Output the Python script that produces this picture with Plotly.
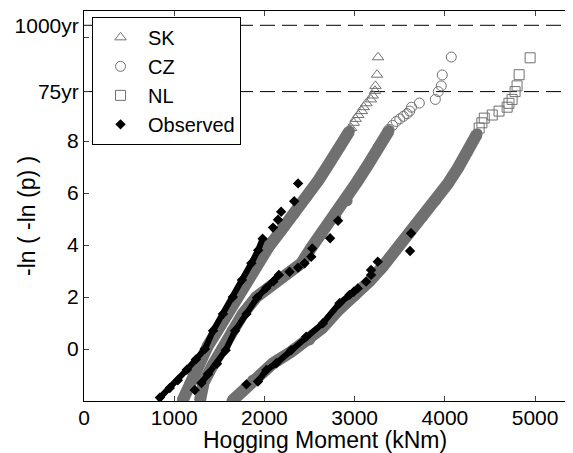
import plotly.graph_objects as go

# ---------------- data ----------------
# Simulated (dense body of the probability-plot bands)
sk_body_x = [1090, 1175, 1264, 1370, 1482, 1590, 1692, 1800, 1914, 2050, 2190, 2330, 2467, 2600, 2721, 2830, 2942]
sk_body_y = [-2.0, -1.33, -0.57, 0.1, 0.73, 1.37, 2.0, 2.65, 3.31, 3.95, 4.58, 5.2, 5.85, 6.5, 7.15, 7.75, 8.38]
cz_body_x = [1285, 1325, 1430, 1530, 1640, 1760, 1910, 2130, 2410, 2520, 2640, 2790, 2916, 3030, 3150, 3260, 3380]
cz_body_y = [-2.0, -1.3, -0.6, 0.0, 0.7, 1.35, 2.0, 2.6, 3.3, 3.9, 4.5, 5.1, 5.7, 6.45, 7.1, 7.75, 8.4]
nl_body_x = [1640, 1870, 2094, 2300, 2500, 2640, 2820, 3000, 3164, 3311, 3459, 3606, 3753, 3901, 4030, 4146, 4250, 4357]
nl_body_y = [-2.0, -1.2, -0.55, -0.1, 0.35, 0.8, 1.5, 2.05, 2.6, 3.17, 3.8, 4.45, 5.09, 5.73, 6.35, 6.97, 7.6, 8.28]

# Simulated upper tails (individual markers)
sk_tail_x = [2960, 2990, 3010, 3040, 3080, 3100, 3130, 3180, 3200, 3225, 3230, 3248, 3259]
sk_tail_y = [8.5, 8.7, 8.85, 9.0, 9.15, 9.3, 9.45, 9.6, 9.75, 9.93, 10.12, 10.55, 11.22]
cz_tail_x = [3380, 3420, 3460, 3500, 3540, 3580, 3610, 3630, 3717, 3894, 3927, 3960, 3971, 4071]
cz_tail_y = [8.45, 8.6, 8.75, 8.85, 8.95, 9.05, 9.15, 9.3, 9.46, 9.6, 9.9, 10.12, 10.54, 11.23]
nl_tail_x = [4380, 4410, 4436, 4525, 4600, 4690, 4710, 4745, 4778, 4800, 4823, 4945]
nl_tail_y = [8.5, 8.7, 8.88, 9.0, 9.15, 9.3, 9.45, 9.6, 9.9, 10.12, 10.55, 11.2]

# Observed (dense part and isolated points)
sk_obs_body_x = [841, 951, 1040, 1140, 1240, 1340, 1430, 1540, 1650, 1750, 1855, 1930, 1980]
sk_obs_body_y = [-1.87, -1.5, -1.2, -0.8, -0.4, 0.0, 0.7, 1.35, 2.0, 2.65, 3.3, 3.8, 4.24]
sk_obs_pts_x = [2095, 2150, 2185, 2330, 2373]
sk_obs_pts_y = [4.67, 4.97, 5.28, 5.68, 6.37]
cz_obs_body_x = [1302, 1375, 1474, 1570, 1674, 1800, 1918, 2020, 2100, 2160]
cz_obs_body_y = [-1.31, -0.96, -0.57, -0.05, 0.7, 1.35, 1.97, 2.35, 2.6, 2.85]
cz_obs_pts_x = [1228, 2279, 2372, 2445, 2519, 2530, 2728, 2816]
cz_obs_pts_y = [-1.58, 2.97, 3.13, 3.3, 3.55, 3.87, 4.26, 4.93]
nl_obs_body_x = [1928, 2021, 2131, 2295, 2463, 2648, 2832, 2942, 2990]
nl_obs_body_y = [-1.25, -0.81, -0.55, -0.05, 0.47, 0.99, 1.76, 2.08, 2.2]
nl_obs_pts_x = [1800, 3034, 3127, 3182, 3182, 3256, 3614, 3625]
nl_obs_pts_y = [-1.36, 2.33, 2.59, 2.85, 3.04, 3.36, 3.77, 4.45]

# Return-period levels and axis ticks
return_levels = [9.9, 12.45]
y_tick_vals = [0, 2, 4, 6, 8, 9.9, 12, 12.45]
y_tick_text = ["0", "2", "4", "6", "8", "75yr", "", "1000yr"]
x_tick_vals = [0, 1000, 2000, 3000, 4000, 5000]

# ---------------- figure ----------------
GRAY = "rgb(112,112,112)"
FONT = "Liberation Sans, Arial, sans-serif"

fig = go.Figure()

for bx, by in [(sk_body_x, sk_body_y), (cz_body_x, cz_body_y), (nl_body_x, nl_body_y)]:
    fig.add_trace(go.Scatter(x=bx, y=by, mode="lines+markers",
                             line=dict(color=GRAY, width=12),
                             marker=dict(color=GRAY, size=11, symbol="circle"),
                             showlegend=False, hoverinfo="skip"))

for name, tx, ty, sym in [("SK", sk_tail_x, sk_tail_y, "triangle-up-open"),
                          ("CZ", cz_tail_x, cz_tail_y, "circle-open"),
                          ("NL", nl_tail_x, nl_tail_y, "square-open")]:
    fig.add_trace(go.Scatter(x=tx, y=ty, mode="markers", name=name,
                             marker=dict(symbol=sym, size=10, color=GRAY,
                                         line=dict(color=GRAY, width=1))))

for bx, by in [(sk_obs_body_x, sk_obs_body_y), (cz_obs_body_x, cz_obs_body_y),
               (nl_obs_body_x, nl_obs_body_y)]:
    fig.add_trace(go.Scatter(x=bx, y=by, mode="lines+markers",
                             line=dict(color="black", width=6),
                             marker=dict(symbol="diamond", size=8, color="black"),
                             showlegend=False, legendgroup="obs"))

first = True
for px, py in [(sk_obs_pts_x, sk_obs_pts_y), (cz_obs_pts_x, cz_obs_pts_y),
               (nl_obs_pts_x, nl_obs_pts_y)]:
    fig.add_trace(go.Scatter(x=px, y=py, mode="markers", name="Observed",
                             marker=dict(symbol="diamond", size=8, color="black"),
                             showlegend=first, legendgroup="obs"))
    first = False

for lv in return_levels:
    fig.add_shape(type="line", xref="paper", x0=0, x1=1, yref="y", y0=lv, y1=lv,
                  line=dict(color="black", width=1, dash="15px,7px"), layer="below")

# The page body adds an 8 px offset; the figure is sized to fit the window.
fig.update_layout(
    width=565, height=445,
    margin=dict(l=76, r=0, t=3, b=52),
    paper_bgcolor="white", plot_bgcolor="white",
    font=dict(family=FONT, size=21, color="black"),
    showlegend=True,
    legend=dict(x=0.0164, y=0.985, xanchor="left", yanchor="top",
                bgcolor="white", bordercolor="black", borderwidth=1,
                font=dict(size=20), tracegroupgap=0, itemwidth=45),
    xaxis=dict(range=[0, 5420], tickvals=x_tick_vals, ticks="inside", ticklen=5,
               showgrid=False, zeroline=False, showline=True, linecolor="black",
               linewidth=1, mirror="ticks", tickfont=dict(size=21),
               ticklabelstandoff=-2),
    yaxis=dict(range=[-2, 13], tickvals=y_tick_vals, ticktext=y_tick_text,
               ticks="inside", ticklen=5, showgrid=False, zeroline=False,
               showline=True, linecolor="black", linewidth=1, mirror="ticks",
               tickfont=dict(size=21)),
    annotations=[
        dict(text="Hogging Moment (kNm)", xref="paper", yref="paper",
             x=0.493, y=-0.1, xanchor="center", yanchor="middle",
             showarrow=False, font=dict(size=23)),
        dict(text="-ln ( -ln (p) )", xref="paper", yref="paper",
             x=-0.117, y=0.474, xanchor="center", yanchor="middle",
             textangle=-90, showarrow=False, font=dict(size=23)),
    ],
)

fig.write_html("out.html")
